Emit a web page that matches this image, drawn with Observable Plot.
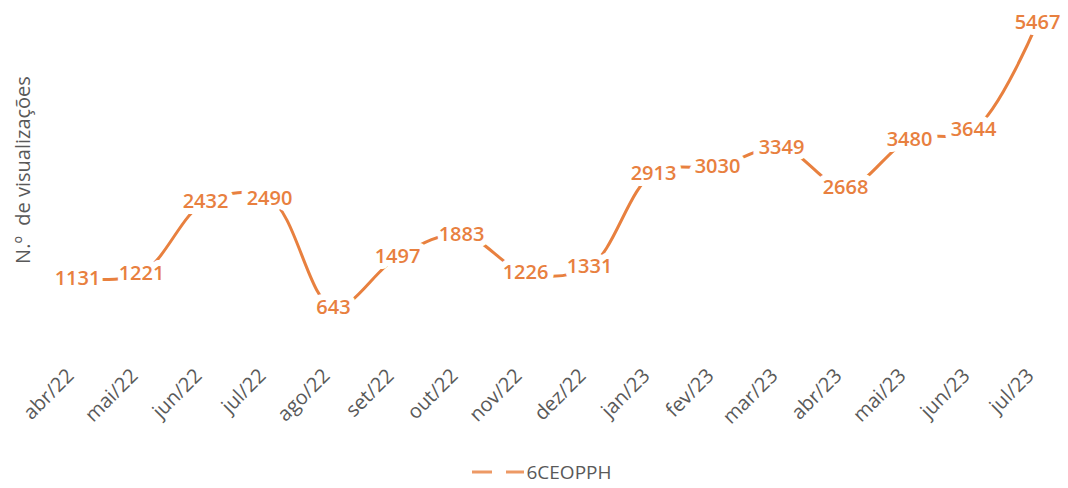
<!DOCTYPE html>
<html><head><meta charset="utf-8">
<script src="https://cdn.jsdelivr.net/npm/d3@7"></script>
<script src="https://cdn.jsdelivr.net/npm/@observablehq/plot@0.6"></script>
<style>
body{margin:0;background:#fff;font-family:"Open Sans",sans-serif;}
#chart{position:relative;width:1068px;}
#legend{display:flex;justify-content:center;align-items:center;height:33px;font-size:19px;color:#595959;margin-left:14px;}
#ylab{position:absolute;left:22px;top:170px;transform:translate(-50%,-50%) rotate(-90deg);font-size:20px;color:#595959;white-space:nowrap;}
</style></head><body>
<div id="chart"><div id="ylab">N.º&nbsp; de visualizações</div></div>
<div id="legend"><svg width="56" height="10"><line x1="2" y1="5" x2="54" y2="5" stroke="#E8803F" stroke-width="3" stroke-dasharray="20,14" stroke-opacity="0.8"/></svg><span>6CEOPPH</span></div>
<script>
const months = ["abr/22","mai/22","jun/22","jul/22","ago/22","set/22","out/22","nov/22","dez/22","jan/23","fev/23","mar/23","abr/23","mai/23","jun/23","jul/23"];
const views = [1131,1221,2432,2490,643,1497,1883,1226,1331,2913,3030,3349,2668,3480,3644,5467];
const seriesName = "6CEOPPH";
const data = months.map((m,i)=>({month:m, value:views[i]}));
const color = "#E8803F";
const chart = Plot.plot({
  width:1068, height:455,
  marginLeft:72, marginRight:26, marginTop:2, marginBottom:110,
  x:{type:"point", domain:months, padding:0, label:null},
  y:{domain:[0,5800], axis:null},
  style:{fontFamily:"Open Sans, sans-serif", background:"white"},
  marks:[
    Plot.axisX({tickRotate:-45, tickSize:0, tickPadding:27, fontSize:20, color:"#595959", label:null, dx:-7}),
    Plot.line(data,{x:"month", y:"value", stroke:color, strokeWidth:3, curve:"catmull-rom"}),
    Plot.text(data,{x:"month", y:"value", text:d=>String(d.value), fill:color, fontSize:20, fontWeight:600, stroke:"white", strokeWidth:12})
  ]
});
document.getElementById("chart").appendChild(chart);
</script>
</body></html>
